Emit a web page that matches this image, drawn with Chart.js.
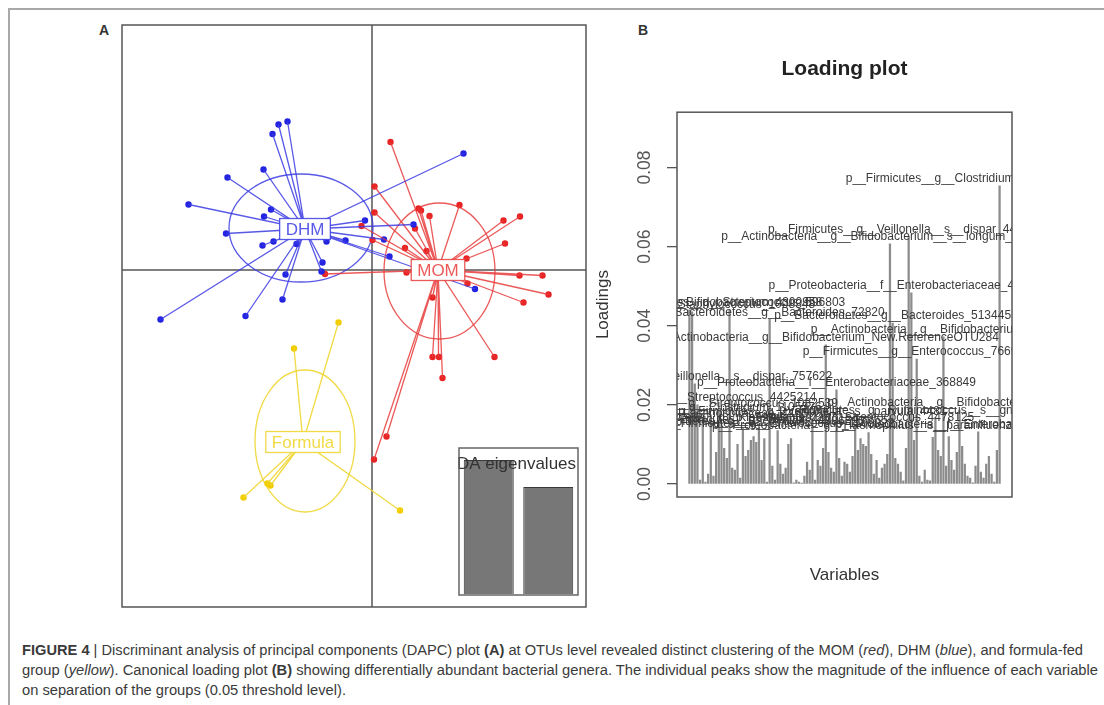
<!DOCTYPE html>
<html><head><meta charset="utf-8">
<script src="https://cdn.jsdelivr.net/npm/chart.js@4.4.1/dist/chart.umd.min.js"></script>
<style>
html,body{margin:0;padding:0;background:#fff;width:1104px;height:705px;overflow:hidden;font-family:"Liberation Sans",Arial,sans-serif;}
.abs{position:absolute;}
#frame{left:8px;top:8px;width:1130px;height:730px;border:2px solid #a8a8a8;box-sizing:border-box;}
.panel{font-weight:bold;font-size:14px;color:#333;line-height:16px;}
.cap{position:absolute;left:22px;white-space:nowrap;font-size:14px;line-height:16px;color:#3a3a3a;transform-origin:0 50%;}
</style></head><body>
<div id="frame" class="abs"></div>
<div class="abs panel" style="left:99px;top:22px;">A</div>
<div class="abs panel" style="left:638px;top:22px;">B</div>
<canvas id="cA" class="abs" style="left:117px;top:20px;" width="474" height="592"></canvas>
<canvas id="cE" class="abs" style="left:454px;top:443px;" width="129" height="157"></canvas>
<canvas id="cB" class="abs" style="left:580px;top:40px;" width="529" height="560"></canvas>
<div class="cap" data-w="1061" style="top:642px;"><b>FIGURE 4</b> | Discriminant analysis of principal components (DAPC) plot <b>(A)</b> at OTUs level revealed distinct clustering of the MOM (<i>red</i>), DHM (<i>blue</i>), and formula-fed</div>
<div class="cap" data-w="1076" style="top:662px;">group (<i>yellow</i>). Canonical loading plot <b>(B)</b> showing differentially abundant bacterial genera. The individual peaks show the magnitude of the influence of each variable</div>
<div class="cap" data-w="324" style="top:682px;">on separation of the groups (0.05 threshold level).</div>
<script>
// ---------- Panel A data (discriminant function coordinates) ----------
const groupNames = ['DHM', 'MOM', 'Formula'];
const centroidX = [-1.34, 1.32, -1.38];
const centroidY = [0.82, 0.00, -3.44];
const ellipseCx = [-1.42, 1.35, -1.34];
const ellipseCy = [0.84, -0.02, -3.42];
const ellipseRx = [1.44, 1.11, 1.00];
const ellipseRy = [1.08, 1.36, 1.42];

const dhmX = [-1.69,-1.87,-1.99,-2.17,-2.89,-3.67,-2.02,-2.16,-2.92,-1.97,-2.19,-1.51,-0.91,-0.53,-0.14,-0.99,-1.01,-1.73,-1.79,-2.53,-4.23,1.83,0.83,0.24,0.35,2.06];
const dhmY = [2.97,2.91,2.72,2.01,1.85,1.31,1.21,1.07,0.73,0.57,0.49,0.52,0.57,0.59,0.99,0.15,-0.03,-0.09,-0.59,-0.92,-0.99,2.33,0.91,0.61,0.27,-0.38];

const momX = [0.37,0.05,0.05,0.93,0.98,1.15,1.75,2.63,2.96,2.66,0.86,0.01,0.66,1.09,1.89,-0.21,0.69,2.95,3.41,3.53,3.03,1.91,2.45,1.21,1.34,1.21,1.41,0.29,0.04,-0.94];
const momY = [2.56,1.67,1.15,1.23,1.19,1.08,1.30,0.99,1.07,0.53,0.83,0.60,0.44,0.38,0.23,0.88,-0.05,-0.11,-0.11,-0.49,-0.65,-0.27,-1.74,-1.74,-1.74,-0.55,-2.16,-3.33,-3.79,-0.08];

const formulaX = [-0.67,-1.56,-2.57,-2.09,-2.03,0.56];
const formulaY = [-1.05,-1.57,-4.55,-4.27,-4.31,-4.81];

const axisXRange = [-5.0, 4.28];
const axisYRange = [-6.74, 4.9];

// DA eigenvalues (inset)
const eigenLabels = ['1', '2'];
const eigenValues = [1.34, 1.07];

// ---------- Panel B data (loadings) ----------
const loadings = [
0.0440,0.0435,0.0253,0.0200,0.0010,0.0160,0.0005,0.0025,0.0175,0.0020,
0.0080,0.0185,0.0150,0.0090,0.0065,0.0440,0.0040,0.0035,0.0100,0.0015,
0.0140,0.0070,0.0085,0.0110,0.0120,0.0105,0.0145,0.0060,0.0115,0.0005,
0.0417,0.0045,0.0010,0.0135,0.0050,0.0025,0.0040,0.0100,0.0115,0.0003,
0.0010,0.0005,0.0002,0.0020,0.0055,0.0035,0.0165,0.0010,0.0060,0.0045,
0.0090,0.0352,0.0080,0.0040,0.0030,0.0238,0.0065,0.0020,0.0055,0.0050,
0.0030,0.0070,0.0150,0.0085,0.0115,0.0100,0.0095,0.0130,0.0075,0.0025,
0.0060,0.0015,0.0040,0.0050,0.0075,0.0607,0.0407,0.0065,0.0050,0.0030,
0.0008,0.0090,0.0625,0.0483,0.0110,0.0316,0.0020,0.0005,0.0035,0.0010,
0.0008,0.0118,0.0167,0.0085,0.0070,0.0372,0.0045,0.0120,0.0060,0.0035,
0.0080,0.0187,0.0095,0.0050,0.0020,0.0015,0.0003,0.0045,0.0132,0.0030,
0.0015,0.0050,0.0070,0.0025,0.0005,0.0085,0.0754];
const labelIdx = [0,1,2,3,5,8,11,12,15,20,26,30,33,46,51,55,62,67,75,76,82,83,85,92,95,101,108,116];
const labelText = [
'p__Actinobacteria__g__Bifidobacterium_4300958',
'p__Firmicutes__g__Staphylococcus_1008348',
'p__Firmicutes__g__Veillonella__s__dispar_757622',
'p__Firmicutes__g__Streptococcus_4425214',
'p__Firmicutes__f__Lachnospiraceae_4465907',
'p__Firmicutes__g__Clostridium_1105376',
'p__Firmicutes__g__Streptococcus_1082539',
'p__Proteobacteria__g__Klebsiella_370287',
'p__Firmicutes__g__Streptococcus_596803',
'p__Bacteroidetes__g__Bacteroides_4386520',
'p__Firmicutes__g__Blautia_4470124',
'p__Bacteroidetes__g__Bacteroides_72820',
'p__Firmicutes__g__Enterococcus_1109922',
'p__Firmicutes__g__Veillonella__s__parvula_4481',
'p__Actinobacteria__g__Bifidobacterium_New.ReferenceOTU284',
'p__Proteobacteria__f__Enterobacteriaceae_368849',
'p__Firmicutes__g__Streptococcus_4478125',
'p__Proteobacteria__g__Haemophilus__s__parainfluenzae',
'p__Actinobacteria__g__Bifidobacterium__s__longum_1057185',
'p__Bacteroidetes__g__Bacteroides_513445',
'p__Firmicutes__g__Veillonella__s__dispar_4476780',
'p__Proteobacteria__f__Enterobacteriaceae_4381226',
'p__Firmicutes__g__Enterococcus_766939',
'p__Firmicutes__g__Ruminococcus__s__gnavus_4468125',
'p__Actinobacteria__g__Bifidobacterium_4383452',
'p__Actinobacteria__g__Bifidobacterium_1106218',
'p__Proteobacteria__f__Enterobacteriaceae_4369464',
'p__Firmicutes__g__Clostridium__s__neonatale_4468947'];
const loadYRange = [-0.0033, 0.094];

// ---------- styles ----------
const pointCol = ['#2323e2', '#e82424', '#f2cd00'];
const lineCol = ['rgba(60,60,228,0.85)', 'rgba(232,60,60,0.85)', 'rgba(240,214,50,0.9)'];
const FONT = '"Liberation Sans", Arial, sans-serif';

Chart.defaults.animation = false;
Chart.defaults.font.family = FONT;

const groupsX = [dhmX, momX, formulaX];
const groupsY = [dhmY, momY, formulaY];

function spokes(g) {
  const d = [];
  groupsX[g].forEach((x, i) => { d.push({x: centroidX[g], y: centroidY[g]}); d.push({x: x, y: groupsY[g][i]}); });
  return d;
}
const dsA = [];
[0,1,2].forEach(g => {
  dsA.push({type: 'line', data: spokes(g), borderColor: lineCol[g], borderWidth: 1.3, pointRadius: 0, tension: 0, showLine: true, fill: false});
});
[0,1,2].forEach(g => {
  dsA.push({type: 'scatter', data: groupsX[g].map((x, i) => ({x: x, y: groupsY[g][i]})), pointRadius: 3.2, pointBackgroundColor: pointCol[g], pointBorderWidth: 0, showLine: false});
});

const plotA = {
  id: 'plotA',
  beforeDatasetsDraw(chart) {
    const {ctx, chartArea: a, scales: {x, y}} = chart;
    ctx.save();
    ctx.strokeStyle = '#555'; ctx.lineWidth = 1.5;
    const x0 = x.getPixelForValue(0), y0 = y.getPixelForValue(0);
    ctx.beginPath(); ctx.moveTo(x0, a.top); ctx.lineTo(x0, a.bottom); ctx.moveTo(a.left, y0); ctx.lineTo(a.right, y0); ctx.stroke();
    const ux = x.getPixelForValue(1) - x.getPixelForValue(0);
    const uy = y.getPixelForValue(0) - y.getPixelForValue(1);
    [0,1,2].forEach(g => {
      ctx.strokeStyle = lineCol[g]; ctx.lineWidth = 1.3;
      ctx.beginPath();
      ctx.ellipse(x.getPixelForValue(ellipseCx[g]), y.getPixelForValue(ellipseCy[g]), ellipseRx[g]*ux, ellipseRy[g]*uy, 0, 0, Math.PI*2);
      ctx.stroke();
    });
    ctx.restore();
  },
  afterDatasetsDraw(chart) {
    const {ctx, chartArea: a, scales: {x, y}} = chart;
    ctx.save();
    ctx.font = '17px ' + FONT;
    ctx.textAlign = 'center'; ctx.textBaseline = 'middle';
    [0,1,2].forEach(g => {
      const cx = x.getPixelForValue(centroidX[g]), cy = y.getPixelForValue(centroidY[g]);
      const w = ctx.measureText(groupNames[g]).width + 12, h = 21;
      ctx.fillStyle = '#fff'; ctx.fillRect(cx - w/2, cy - h/2, w, h);
      ctx.strokeStyle = lineCol[g]; ctx.lineWidth = 1.3; ctx.strokeRect(cx - w/2, cy - h/2, w, h);
      ctx.fillStyle = lineCol[g]; ctx.fillText(groupNames[g], cx, cy + 1);
    });
    ctx.strokeStyle = '#555'; ctx.lineWidth = 1.5;
    ctx.strokeRect(a.left, a.top, a.right - a.left, a.bottom - a.top);
    ctx.restore();
  }
};

new Chart(document.getElementById('cA'), {
  type: 'scatter',
  data: {datasets: dsA},
  options: {
    responsive: false, events: [],
    layout: {padding: 5},
    plugins: {legend: {display: false}, tooltip: {enabled: false}},
    scales: {
      x: {type: 'linear', display: false, min: axisXRange[0], max: axisXRange[1]},
      y: {type: 'linear', display: false, min: axisYRange[0], max: axisYRange[1]}
    }
  },
  plugins: [plotA]
});

// inset eigenvalues
const eigPlug = {
  id: 'eigPlug',
  beforeDraw(chart) {
    const {ctx, chartArea: a} = chart;
    ctx.save(); ctx.fillStyle = '#fff'; ctx.fillRect(a.left, a.top, a.right - a.left, a.bottom - a.top); ctx.restore();
  },
  afterDraw(chart) {
    const {ctx, chartArea: a} = chart;
    ctx.save();
    ctx.font = '17px ' + FONT; ctx.fillStyle = '#333'; ctx.textAlign = 'center'; ctx.textBaseline = 'middle';
    ctx.fillText('DA eigenvalues', (a.left + a.right)/2 - 2, a.top + 16);
    ctx.strokeStyle = '#666'; ctx.lineWidth = 1.5;
    ctx.strokeRect(a.left, a.top, a.right - a.left, a.bottom - a.top);
    ctx.restore();
  }
};
new Chart(document.getElementById('cE'), {
  type: 'bar',
  data: {labels: eigenLabels, datasets: [{data: eigenValues, backgroundColor: '#777', borderColor: '#3a3a3a', borderWidth: 1, barPercentage: 0.84, categoryPercentage: 1}]},
  options: {
    responsive: false, events: [],
    layout: {padding: 5},
    plugins: {legend: {display: false}, tooltip: {enabled: false}},
    scales: {
      x: {display: false},
      y: {display: false, min: -0.01, max: 1.46}
    }
  },
  plugins: [eigPlug]
});

// loading plot
const loadPlug = {
  id: 'loadPlug',
  afterDatasetsDraw(chart) {
    const {ctx, chartArea: a, scales: {x, y}} = chart;
    ctx.save();
    ctx.beginPath(); ctx.rect(a.left, a.top, a.right - a.left, a.bottom - a.top); ctx.clip();
    ctx.font = '12px ' + FONT; ctx.fillStyle = '#3a3a3a';
    ctx.textAlign = 'center'; ctx.textBaseline = 'alphabetic';
    labelIdx.forEach((idx, k) => {
      ctx.fillText(labelText[k], x.getPixelForValue(idx + 1), y.getPixelForValue(loadings[idx]) - 3.5);
    });
    ctx.restore();
    ctx.save();
    ctx.strokeStyle = '#555'; ctx.lineWidth = 1.5;
    ctx.strokeRect(a.left, a.top, a.right - a.left, a.bottom - a.top);
    ctx.restore();
  }
};
const nVar = loadings.length;
new Chart(document.getElementById('cB'), {
  type: 'bar',
  data: {datasets: [{data: loadings.map((v, i) => ({x: i + 1, y: v})), backgroundColor: '#8c8c8c', borderWidth: 0, barThickness: 1.6}]},
  options: {
    responsive: false, events: [],
    layout: {padding: 0},
    plugins: {
      legend: {display: false}, tooltip: {enabled: false},
      title: {display: true, text: 'Loading plot', color: '#222', font: {size: 21, weight: 'bold'}, padding: {top: 17, bottom: 30}}
    },
    scales: {
      x: {
        type: 'linear', offset: false,
        min: 1 - 0.04*(nVar - 1), max: nVar + 0.04*(nVar - 1),
        grid: {display: false}, border: {display: false}, ticks: {display: false},
        title: {display: true, text: 'Variables', color: '#333', font: {size: 17}, padding: {top: 0, bottom: 14.8}},
        afterFit(s) { s.height = 103; }
      },
      y: {
        min: loadYRange[0], max: loadYRange[1],
        grid: {drawOnChartArea: false, drawTicks: true, tickLength: 10, color: '#555', lineWidth: 1.3},
        border: {display: false},
        ticks: {stepSize: 0.02, includeBounds: false, minRotation: 90, maxRotation: 90, crossAlign: 'center', padding: 5, color: '#555', font: {size: 17.5}, callback: v => Number(v).toFixed(2)},
        title: {display: true, text: 'Loadings', color: '#333', font: {size: 17}, padding: {top: 12.8, bottom: 0}},
        afterFit(s) { s.width = 97; }
      },
      yRight: {
        type: 'linear', position: 'right', display: true,
        grid: {display: false}, border: {display: false}, ticks: {display: false},
        afterFit(s) { s.width = 97; }
      }
    }
  },
  plugins: [loadPlug]
});

// caption fitting
document.querySelectorAll('.cap').forEach(el => {
  const w = el.getBoundingClientRect().width;
  el.style.transform = 'scaleX(' + (Number(el.dataset.w) / w) + ')';
});
</script>
</body></html>
